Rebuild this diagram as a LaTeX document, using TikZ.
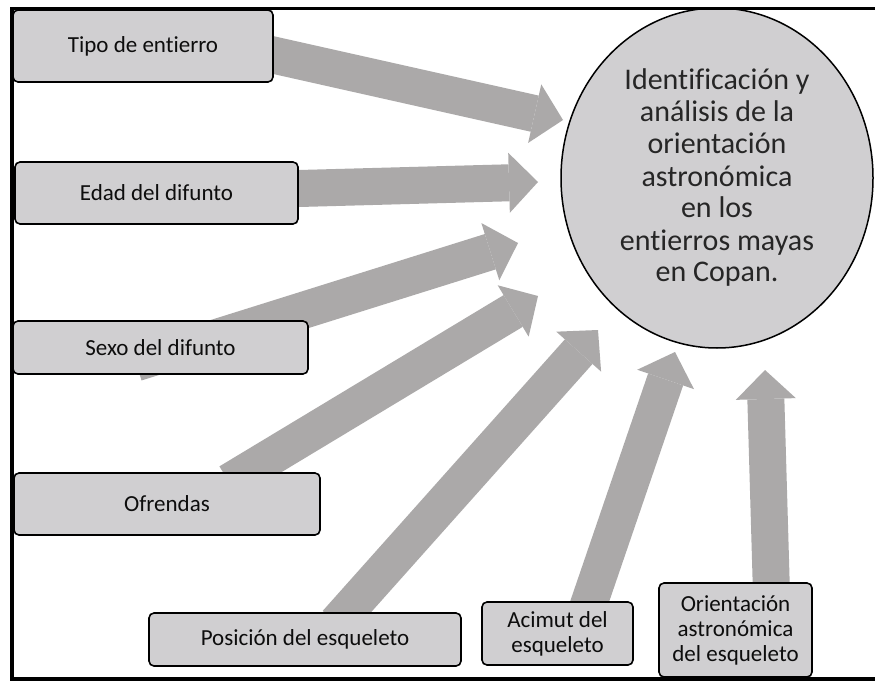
\documentclass[tikz,border=0pt]{standalone}
\usepackage{fontspec}
\setmainfont{Carlito}[Ligatures=NoCommon]
\usetikzlibrary{arrows.meta,shapes.geometric,calc,backgrounds}

\definecolor{pfeilgrau}{RGB}{171,169,169}
\definecolor{kastengrau}{RGB}{208,207,209}

\begin{document}
\begin{tikzpicture}[x=1pt, y=-1pt,
    kasten/.style={draw, line width=1.6pt, rounded corners=5pt, fill=kastengrau,
      align=center, inner sep=0pt, text=black!95, font=\fontsize{23}{25}\selectfont},
    ziel/.style={draw, ellipse, line width=1.5pt, fill=kastengrau, inner sep=0pt,
      align=center, text=black!85, font=\fontsize{30}{32}\selectfont},
    pfeil/.style={draw=pfeilgrau, line width=37pt,
      -{Triangle[length=29pt, width=60pt, line width=0pt]}}]
  \useasboundingbox (0,0) rectangle (875,682);

  \node[kasten, minimum width=260pt, minimum height=72pt] (tipo) at (143,46)    {Tipo de entierro};
  \node[kasten, minimum width=283pt, minimum height=62pt] (edad) at (156.5,193) {Edad del difunto};
  \node[kasten, minimum width=295pt, minimum height=53pt] (sexo) at (160.5,347.5) {Sexo del difunto};
  \node[kasten, minimum width=306pt, minimum height=62pt] (ofr)  at (167,504)   {Ofrendas};
  \node[kasten, minimum width=312pt, minimum height=53pt] (pos)  at (305,639.5) {Posición del esqueleto};
  \node[kasten, minimum width=151pt, minimum height=63pt] (acim) at (557.5,633.5) {Acimut del\\esqueleto};
  \node[kasten, minimum width=153pt, minimum height=94pt] (ori)  at (735.5,630) {Orientación\\astronómica\\del esqueleto};

  \node[ziel, minimum width=312pt, minimum height=340pt] (obj) at (717,178)
    {Identificación y\\análisis de la\\orientación\\astronómica\\en los\\entierros mayas\\en Copan.};

  % Spitzen der Pfeile, frei vor dem Kreis
  \coordinate (p1) at (563,120);
  \coordinate (p2) at (538,182);
  \coordinate (p3) at (518,243);
  \coordinate (p4) at (538,296);
  \coordinate (p5) at (598,330);
  \coordinate (p6) at (675,352);
  \coordinate (p7) at (765,370);

  \begin{scope}[on background layer]
    \fill[white] (0,0) rectangle (875,682);
    \draw[pfeil] ($(tipo.east)+(-23,4)$)    -- (p1);
    \draw[pfeil] ($(edad.east)+(-18,-4)$)   -- (p2);
    \draw[pfeil] ($(sexo.south)+(-24.5,-12)$) -- (p3); % Ende schaut unten heraus
    \draw[pfeil] ($(ofr.north)+(62,10)$)    -- (p4);
    \draw[pfeil] ($(pos.north)+(31.5,11)$)  -- (p5);
    \draw[pfeil] ($(acim.north)+(28.5,11)$) -- (p6);
    \draw[pfeil] ($(ori.north)+(36,12)$)    -- (p7);
  \end{scope}

  % Rahmen links, oben und unten
  \draw[line width=3.5pt] (875,8.5) -- (12,8.5) -- (12,679) -- (875,679);
\end{tikzpicture}
\end{document}
